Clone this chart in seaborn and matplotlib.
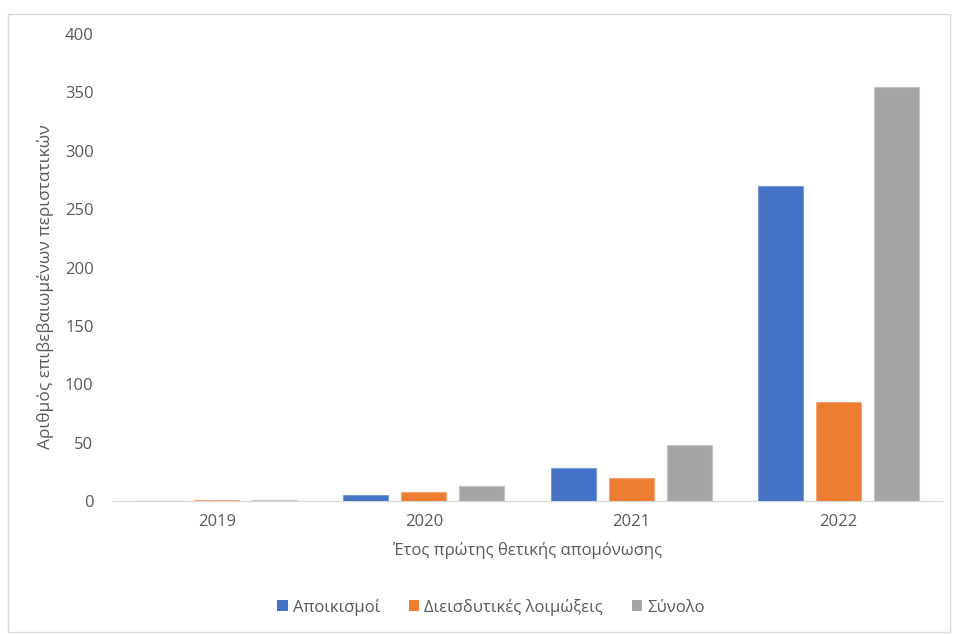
import matplotlib
matplotlib.use("Agg")
import matplotlib.pyplot as plt
import seaborn as sns
import pandas as pd
from matplotlib.patches import Rectangle

years = ["2019", "2020", "2021", "2022"]
series_names = ["Αποικισμοί", "Διεισδυτικές λοιμώξεις", "Σύνολο"]
colonisations = [0, 5, 28, 270]
invasive = [1, 8, 20, 85]
total = [1, 13, 48, 355]
yticks = [0, 50, 100, 150, 200, 250, 300, 350, 400]
colors = ["#4472C4", "#ED7D31", "#A5A5A5"]
edge_colors = ["#7A9BD6", "#F3A676", "#C4C4C4"]

rows = []
for name, vals in zip(series_names, [colonisations, invasive, total]):
    for y, v in zip(years, vals):
        rows.append({"year": y, "series": name, "value": v})
df = pd.DataFrame(rows)

sns.set_theme(style="white")
plt.rcParams["font.family"] = ["Open Sans", "DejaVu Sans"]
text_color = "#595959"
fs = 12

fig = plt.figure(figsize=(9.55, 6.34), dpi=100)
ax = fig.add_axes([113/955, 1-501/634, (942-113)/955, (501-34)/634])

sns.barplot(data=df, x="year", y="value", hue="series", order=years,
            hue_order=series_names, palette=colors, width=0.84, gap=0.225,
            saturation=1, ax=ax, legend=True)

# light edge like the original rendering
for container, ec in zip(ax.containers, edge_colors):
    for bar in container:
        bar.set_edgecolor(ec)
        bar.set_linewidth(0.8)
        bar.set_zorder(3)

ax.set_ylim(0, 400)
ax.set_xlim(-0.5, 3.5)
ax.set_yticks(yticks)
ax.set_yticklabels([str(t) for t in yticks])
ax.tick_params(axis="both", length=0, labelsize=fs, colors=text_color)
ax.tick_params(axis="y", pad=14)
ax.tick_params(axis="x", pad=9)
for s in ["left", "right", "top"]:
    ax.spines[s].set_visible(False)
ax.spines["bottom"].set_color("#D9D9D9")
ax.spines["bottom"].set_linewidth(1)
ax.spines["bottom"].set_zorder(1)
ax.grid(False)

ax.set_xlabel("Έτος πρώτης θετικής απομόνωσης", fontsize=fs, color=text_color, labelpad=9)
ax.set_ylabel("")
fig.text(45/955, 1-287/634, "Αριθμός επιβεβαιωμένων περιστατικών", rotation=90,
         ha="center", va="center", fontsize=12.5, color=text_color)

ax.legend_.remove()
handles = [Rectangle((0, 0), 1, 1, facecolor=c, edgecolor="none") for c in colors]
fig.legend(handles, series_names, loc="center", bbox_to_anchor=(491/955, 1-607/634),
           ncol=3, frameon=False, fontsize=fs, labelcolor=text_color,
           handlelength=0.65, handleheight=0.65, handletextpad=0.3, columnspacing=1.7)

fig.patches.append(Rectangle((8/955, 1-632/634), (950-8)/955, (632-14)/634,
                             transform=fig.transFigure, fill=False,
                             edgecolor="#D9D9D9", linewidth=1))

fig.savefig("out.png", dpi=100)
